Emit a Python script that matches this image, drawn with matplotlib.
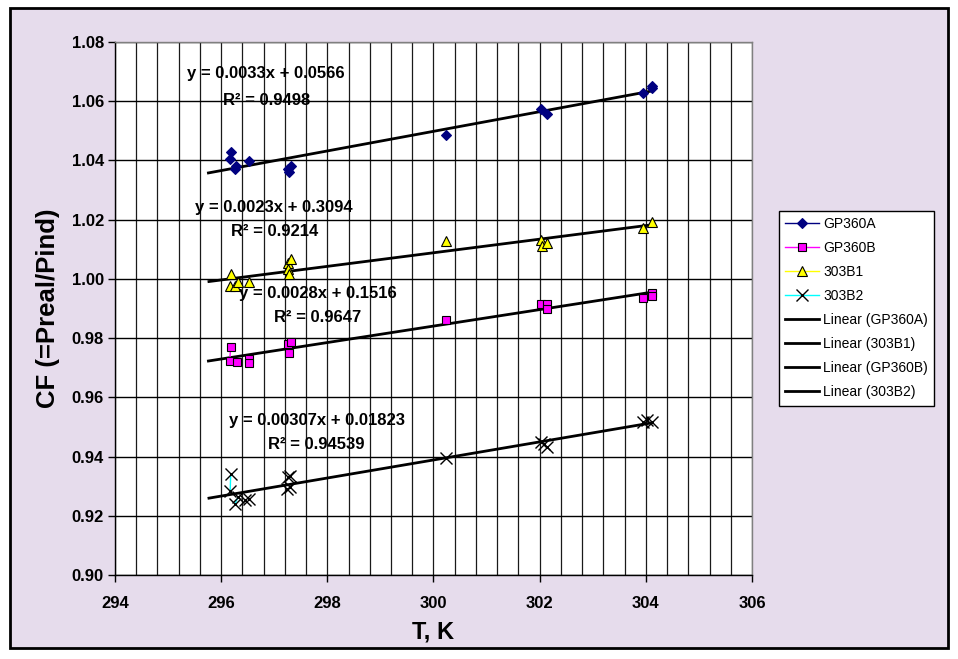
import numpy as np
import matplotlib
matplotlib.use("Agg")
import matplotlib.pyplot as plt
from matplotlib.patches import Rectangle
from matplotlib.lines import Line2D

plt.rcParams['font.family'] = ['Liberation Sans', 'DejaVu Sans']

nan = np.nan

# Temperature (K) and correction factor per sensor; NaN marks a break in the series line
gp360a_T = [296.18, 296.16, nan, 296.28, 296.27, nan, 296.52, nan, 297.26, 297.32, 297.27, nan,
            300.23, nan, 302.03, 302.13, nan, 303.94, nan, 304.11, 304.11]
gp360a_CF = [1.0428, 1.0404, nan, 1.0382, 1.0371, nan, 1.0397, nan, 1.0371, 1.0382, 1.0362, nan,
             1.0486, nan, 1.0573, 1.0556, nan, 1.0629, nan, 1.0652, 1.0646]

gp360b_T = [296.18, 296.16, nan, 296.30, nan, 296.52, 296.52, nan, 297.26, 297.32, nan, 297.28, nan,
            300.23, nan, 302.02, 302.13, 302.13, nan, 303.94, nan, 304.11, 304.11]
gp360b_CF = [0.9771, 0.9723, nan, 0.9720, nan, 0.9728, 0.9715, nan, 0.9780, 0.9788, nan, 0.9751, nan,
             0.9861, nan, 0.9915, 0.9915, 0.9897, nan, 0.9934, nan, 0.9953, 0.9942]

b1_T = [296.18, nan, 296.17, nan, 296.27, nan, 296.31, nan, 296.52, nan, 297.26, nan, 297.32, nan,
        297.26, nan, 297.27, nan, 300.23, nan, 302.03, nan, 302.05, nan, 302.13, nan, 303.94, nan, 304.11]
b1_CF = [1.0017, nan, 0.9976, nan, 0.9976, nan, 0.9989, nan, 0.9990, nan, 1.0055, nan, 1.0068, nan,
         1.0032, nan, 1.0017, nan, 1.0129, nan, 1.0131, nan, 1.0112, nan, 1.0122, nan, 1.0173, nan, 1.0193]

b2_T = [296.18, 296.17, nan, 296.26, 296.32, nan, 296.45, nan, 296.53, nan, 297.26, nan, 297.30, nan,
        297.24, nan, 297.29, nan, 300.23, nan, 302.03, nan, 302.09, nan, 302.14, nan,
        303.94, nan, 304.03, nan, 304.12]
b2_CF = [0.9341, 0.9285, nan, 0.9240, 0.9264, nan, 0.9253, nan, 0.9257, nan, 0.9330, nan, 0.9334, nan,
         0.9289, nan, 0.9296, nan, 0.9394, nan, 0.9450, nan, 0.9442, nan, 0.9431, nan,
         0.9518, nan, 0.9523, nan, 0.9518]

series_names = ["GP360A", "GP360B", "303B1", "303B2"]
trend_order = ["GP360A", "303B1", "GP360B", "303B2"]

# Trendline equations as printed on the chart
eq_text = {
    "GP360A": ("y = 0.0033x + 0.0566", "R² = 0.9498"),
    "303B1": ("y = 0.0023x + 0.3094", "R² = 0.9214"),
    "GP360B": ("y = 0.0028x + 0.1516", "R² = 0.9647"),
    "303B2": ("y = 0.00307x + 0.01823", "R² = 0.94539"),
}
eq_pos = {
    "GP360A": ((296.85, 1.0692), (296.85, 1.0604)),
    "303B1": ((297.00, 1.0240), (297.01, 1.0159)),
    "GP360B": ((297.815, 0.9951), (297.815, 0.9869)),
    "303B2": ((297.80, 0.9523), (297.79, 0.9442)),
}

data = {
    "GP360A": (gp360a_T, gp360a_CF),
    "GP360B": (gp360b_T, gp360b_CF),
    "303B1": (b1_T, b1_CF),
    "303B2": (b2_T, b2_CF),
}
style = {
    "GP360A": dict(color="#000080", marker="D", markersize=5.5, markerfacecolor="#000080",
                   markeredgecolor="#000080", markeredgewidth=0.8, linewidth=1.0),
    "GP360B": dict(color="#FF00FF", marker="s", markersize=6, markerfacecolor="#FF00FF",
                   markeredgecolor="black", markeredgewidth=0.8, linewidth=1.0),
    "303B1": dict(color="#FFFF00", marker="^", markersize=6.5, markerfacecolor="#FFFF00",
                  markeredgecolor="black", markeredgewidth=0.8, linewidth=1.0),
    "303B2": dict(color="#00FFFF", marker="x", markersize=8, markerfacecolor="none",
                  markeredgecolor="black", markeredgewidth=1.0, linewidth=1.0),
}

W, H = 958, 659
fig = plt.figure(figsize=(W / 100, H / 100), dpi=100, facecolor="white")

# chart area: lavender panel with a black frame
fig.patches.append(Rectangle((10 / W, 11 / H), 938 / W, 640 / H, transform=fig.transFigure,
                             facecolor="#E6DCEC", edgecolor="black", linewidth=2, zorder=-10))

ax = fig.add_axes([115 / W, (H - 575) / H, 637 / W, 533 / H])
ax.set_facecolor("white")
ax.set_xlim(294, 306)
ax.set_ylim(0.90, 1.08)
ax.set_xticks(np.arange(294, 306.1, 2))
ax.set_yticks(np.arange(0.90, 1.0801, 0.02))
ax.set_xticks(np.arange(294, 306.01, 0.4), minor=True)
ax.xaxis.set_major_formatter(matplotlib.ticker.FormatStrFormatter("%d"))
ax.yaxis.set_major_formatter(matplotlib.ticker.FormatStrFormatter("%.2f"))

ax.grid(True, axis="y", which="major", color="black", linewidth=1.0, zorder=1)
ax.grid(True, axis="x", which="both", color="#1a1a1a", linewidth=0.9, zorder=1)
ax.set_axisbelow(True)

ax.tick_params(axis="both", which="major", direction="out", length=5, width=1, color="black",
               labelsize=12, pad=3)
ax.tick_params(axis="x", which="major", pad=10)
ax.tick_params(axis="x", which="minor", length=0)
for lab in ax.get_xticklabels() + ax.get_yticklabels():
    lab.set_fontweight("bold")

for s in ["left", "bottom"]:
    ax.spines[s].set_color("black")
    ax.spines[s].set_linewidth(1.0)
for s in ["top", "right"]:
    ax.spines[s].set_color("#808080")
    ax.spines[s].set_linewidth(1.0)

ax.set_xlabel("T, K", fontsize=17, fontweight="bold", labelpad=7)
ax.set_ylabel("CF (=Preal/Pind)", fontsize=18.5, fontweight="bold")
ax.yaxis.set_label_coords(-0.086, 0.5)

for name in series_names:
    x, y = data[name]
    ax.plot(x, y, label=name, zorder=4, **style[name])

for name in trend_order:
    x, y = (np.array(v, dtype=float) for v in data[name])
    ok = ~np.isnan(x) & ~np.isnan(y)
    slope, intercept = np.polyfit(x[ok], y[ok], 1)
    xs = np.array([x[ok].min() - 0.4, x[ok].max()])
    ax.plot(xs, slope * xs + intercept, color="black", linewidth=2, zorder=3,
            label=f"Linear ({name})")
    (p1, p2) = eq_pos[name]
    l1, l2 = eq_text[name]
    ax.text(p1[0], p1[1], l1, ha="center", va="center", fontsize=12, fontweight="bold", zorder=5)
    ax.text(p2[0], p2[1], l2, ha="center", va="center", fontsize=12, fontweight="bold", zorder=5)

leg_handles = []
for name in series_names:
    leg_handles.append(Line2D([], [], **style[name]))
for name in trend_order:
    leg_handles.append(Line2D([], [], color="black", linewidth=2))
leg_labels = series_names + [f"Linear ({n})" for n in trend_order]

leg = fig.legend(leg_handles, leg_labels, loc="upper left",
                 bbox_to_anchor=(779 / W, (H - 211) / H), fontsize=10, frameon=True,
                 fancybox=False, edgecolor="black", facecolor="white", framealpha=1,
                 handlelength=2.45, handletextpad=0.3, labelspacing=0.72, borderpad=0.45,
                 borderaxespad=0)
leg.get_frame().set_linewidth(1.0)

fig.savefig("out.png", dpi=100, facecolor="white")
